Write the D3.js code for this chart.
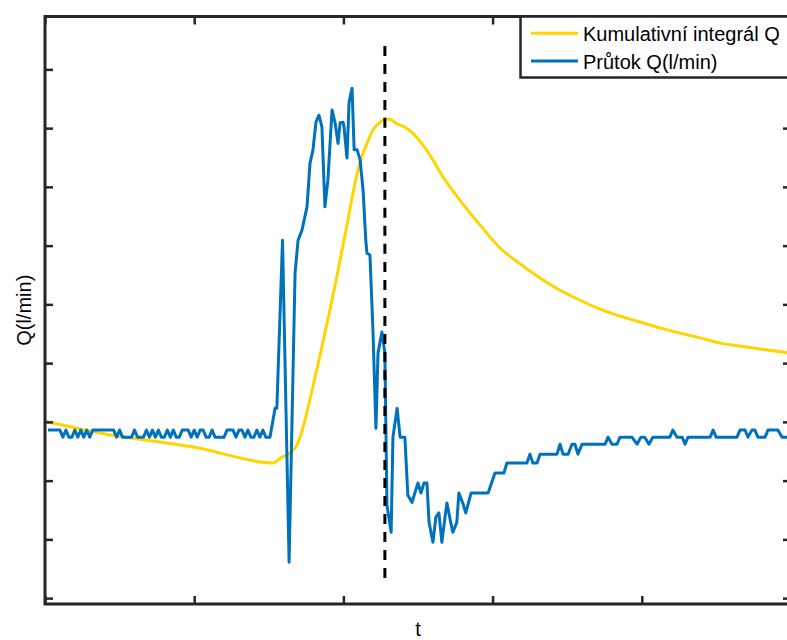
<!DOCTYPE html>
<html><head><meta charset="utf-8">
<script src="https://cdn.jsdelivr.net/npm/d3@7/dist/d3.min.js"></script>
<style>
html,body{margin:0;padding:0;background:#fff;}
svg{display:block;font-family:"Liberation Sans",Arial,Helvetica,sans-serif;}
</style></head>
<body>
<svg id="chart" width="787" height="640"></svg>
<script>
// ---- data ----
const seriesNames = ["Kumulativní integrál Q", "Průtok Q(l/min)"];
const xLabel = "t";
const yLabel = "Q(l/min)";
const xTicks = [0, 50, 100, 150, 200, 250];
const yTicks = [0, 1, 2, 3, 4, 5, 6, 7, 8, 9];
const markerT = 113.9;
const markerRange = [0.255, 9.4];

// Průtok Q — baseline samples t = 1..75
const baseT = d3.range(1, 76);
const baseQ = [2.86,2.86,2.86,2.86,2.86, 2.74,2.86,2.74,2.74,2.86,2.74,2.86,2.74,2.86,2.74,2.86,
  2.86,2.86,2.86,2.86,2.86,2.86,2.86, 2.74,2.86, 2.74,2.74,2.74,2.74,
  2.86,2.74,2.74,2.74,2.86,2.74,2.86,2.74,2.86,2.74,2.74,2.86,2.74,2.86,2.74,2.74,2.86,2.86,2.86,
  2.74,2.86,2.74,2.86,2.86,2.74,2.74,2.86,2.74,2.74,2.74,2.74,2.86,2.86,2.86,2.74,2.86,2.86,2.74,
  2.86,2.74,2.74,2.86,2.74,2.86,2.74,2.74];
// Průtok Q — event and recovery
const flowT = [77.1,77.7,79.6,81.8,83.8,84.8,86.1,87.8,88.8,89.8,90.8,91.8,92.8,93.8,94.8,96.2,97.2,98.2,98.9,99.9,100.2,
  101.2,101.9,102.9,103.6,104.6,105.6,106.6,107.5,107.9,108.9,109.9,110.9,111.6,112.9,113.9,114.6,116,116.6,118,119,120.6,
  121.6,123,124,125,126,127,128,128.7,130,131,132,133,134,134.7,136,136.7,138,138.7,140,141,142.8,148.5,150.8,153.8,154.8,
  161.5,162.5,163.5,164.9,165.9,171.6,172.6,173.6,175.3,176.6,177.6,178.6,180,187.7,188.7,190,191.7,192.7,196.7,198.4,199.7,
  201,202.4,203.7,209.4,210.4,211.8,213.5,214.5,215.5,222.9,223.9,224.9,231.9,232.9,234.6,235.6,236.9,237.9,238.9,241.3,
  242.3,245.6,247,250];
const flowQ = [3.23,3.23,6.09,0.61,5.53,6.09,6.26,6.66,7.40,7.63,8.10,8.22,8.02,6.66,7.11,8.31,8.09,7.74,8.09,8.10,8.02,
  7.49,8.44,8.68,7.63,7.63,7.46,6.94,6.09,5.87,5.84,4.56,2.89,4.17,4.53,4.17,1.58,1.12,2.74,3.23,2.74,2.74,
  1.75,1.63,1.80,1.96,1.79,1.96,1.96,1.29,0.95,1.38,1.45,0.95,1.36,1.62,1.28,1.12,1.29,1.79,1.62,1.45,1.79,1.79,2.13,2.13,2.30,
  2.30,2.45,2.30,2.30,2.45,2.45,2.62,2.45,2.45,2.62,2.62,2.45,2.62,2.62,2.74,2.62,2.62,2.74,2.74,2.62,2.74,
  2.74,2.62,2.74,2.74,2.86,2.74,2.74,2.62,2.74,2.74,2.86,2.74,2.74,2.86,2.86,2.74,2.86,2.86,2.74,2.74,
  2.86,2.86,2.74,2.74];

// Kumulativní integrál Q
const cumT = [0,18.4,51.9,72,75.4,76.4,79.4,82.1,83.8,85.5,87.1,90.5,101.5,103.2,105.6,107.9,109.9,112.3,113.9,115.6,118,120.6,123.3,
  126.7,130,132.4,139.1,145.8,152.5,159.2,165.9,172.6,179.3,186,192.7,199.4,206.1,212.8,219.5,226.2,232.9,239.6,250];
const cumQ = [3.01,2.81,2.55,2.32,2.30,2.30,2.40,2.47,2.55,2.74,3.03,3.76,6.43,6.89,7.42,7.74,7.97,8.10,8.15,8.15,8.07,8.02,7.91,
  7.71,7.46,7.25,6.77,6.35,5.96,5.69,5.45,5.24,5.07,4.92,4.80,4.70,4.60,4.51,4.43,4.34,4.29,4.24,4.17];

const colors = ["#FFD500", "#0072BD"];
const axisColor = "#262626";

// ---- layout ----
const L = 45, R = 791, T = 16.5, B = 604;
const x = d3.scaleLinear().domain([0, 250]).range([L, R]);
const y = d3.scaleLinear().domain([-0.1, 9.9]).range([B, T]);

const svg = d3.select("#chart");
svg.append("defs").append("clipPath").attr("id","clip")
  .append("rect").attr("x",L).attr("y",T).attr("width",R-L).attr("height",B-T);

const line = d3.line().x(d => x(d[0])).y(d => y(d[1]));
const flow = baseT.map((t,i)=>[t, baseQ[i]]).concat([[75.4, 2.74]]).concat(flowT.map((t,i)=>[t, flowQ[i]]));
const cum = cumT.map((t,i)=>[t, cumQ[i]]);

const plot = svg.append("g").attr("clip-path","url(#clip)");
plot.append("path").datum(cum).attr("d", line.curve(d3.curveMonotoneX))
  .attr("fill","none").attr("stroke",colors[0]).attr("stroke-width",3).attr("stroke-linejoin","round");
plot.append("path").datum(flow).attr("d", line.curve(d3.curveLinear))
  .attr("fill","none").attr("stroke",colors[1]).attr("stroke-width",3).attr("stroke-linejoin","round");
plot.append("line")
  .attr("x1",x(markerT)).attr("x2",x(markerT))
  .attr("y1",y(markerRange[1])).attr("y2",y(markerRange[0]))
  .attr("stroke","#000").attr("stroke-width",3).attr("stroke-dasharray","10,8");

// ---- axes (ticks inward, no labels) ----
function styleAxis(g){
  g.select(".domain").remove();
  g.selectAll(".tick line").attr("stroke",axisColor).attr("stroke-width",2.5);
  g.selectAll(".tick text").remove();
}
svg.append("g").attr("transform",`translate(0,${B})`)
  .call(d3.axisBottom(x).tickValues(xTicks).tickSize(-8).tickFormat("")).call(styleAxis);
svg.append("g").attr("transform",`translate(0,${T})`)
  .call(d3.axisTop(x).tickValues(xTicks).tickSize(-8).tickFormat("")).call(styleAxis);
svg.append("g").attr("transform",`translate(${L},0)`)
  .call(d3.axisLeft(y).tickValues(yTicks).tickSize(-8).tickFormat("")).call(styleAxis);
svg.append("g").attr("transform",`translate(${R},0)`)
  .call(d3.axisRight(y).tickValues(yTicks).tickSize(-8).tickFormat("")).call(styleAxis);
svg.append("rect").attr("x",L).attr("y",T).attr("width",R-L).attr("height",B-T)
  .attr("fill","none").attr("stroke",axisColor).attr("stroke-width",3);

// ---- labels ----
svg.append("text").attr("x",(L+R)/2).attr("y",636).attr("text-anchor","middle")
  .attr("font-size",20).attr("fill","#000").text(xLabel);
svg.append("text").attr("transform",`translate(31,${(T+B)/2}) rotate(-90)`)
  .attr("text-anchor","middle").attr("font-size",20).attr("fill","#000").text(yLabel);

// ---- legend ----
const lg = svg.append("g");
lg.append("rect").attr("x",520.5).attr("y",T).attr("width",300).attr("height",61)
  .attr("fill","#fff").attr("stroke",axisColor).attr("stroke-width",2.5);
const rows = [33.3, 61];
seriesNames.forEach((n,i)=>{
  lg.append("line").attr("x1",531).attr("x2",578).attr("y1",rows[i]).attr("y2",rows[i])
    .attr("stroke",colors[i]).attr("stroke-width",3);
  lg.append("text").attr("x",583).attr("y",rows[i]+8).attr("font-size",20).attr("fill","#000").text(n);
});
</script>
</body></html>
